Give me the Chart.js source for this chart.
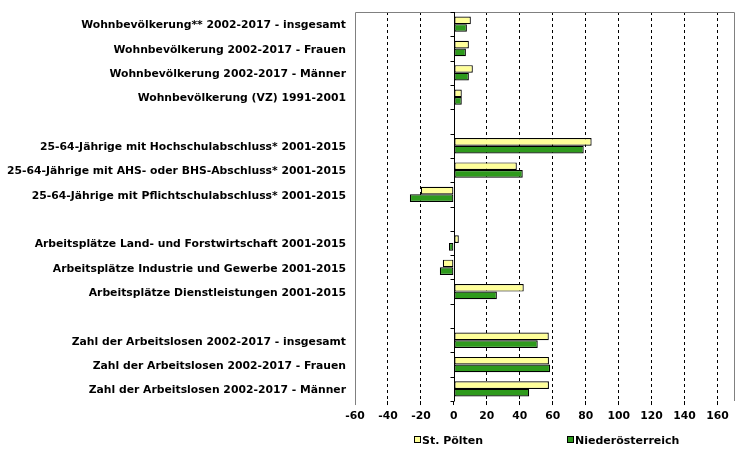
<!DOCTYPE html>
<html>
<head>
<meta charset="utf-8">
<script src="https://cdn.jsdelivr.net/npm/chart.js@4/dist/chart.umd.min.js"></script>
<style>
  html, body { margin: 0; padding: 0; background: #fff; }
  #wrap { position: relative; width: 755px; height: 458px; }
  #legend {
    position: absolute; top: 434px; left: 414px;
    font: bold 11px "DejaVu Sans", Verdana, sans-serif; color: #000;
  }
  #legend span.item { position: absolute; white-space: nowrap; }
  #legend i {
    display: inline-block; width: 5px; height: 5px; border: 1px solid #000;
    margin-right: 1px; vertical-align: 1px;
  }
</style>
</head>
<body>
<div id="wrap">
  <canvas id="myChart" width="755" height="458"></canvas>
  <div id="legend"></div>
</div>
<script>
const categories = [
  'Wohnbevölkerung** 2002-2017 - insgesamt',
  'Wohnbevölkerung 2002-2017 - Frauen',
  'Wohnbevölkerung 2002-2017 - Männer',
  'Wohnbevölkerung (VZ) 1991-2001',
  '',
  '25-64-Jährige mit Hochschulabschluss* 2001-2015',
  '25-64-Jährige mit AHS- oder BHS-Abschluss* 2001-2015',
  '25-64-Jährige mit Pflichtschulabschluss* 2001-2015',
  '',
  'Arbeitsplätze Land- und Forstwirtschaft 2001-2015',
  'Arbeitsplätze Industrie und Gewerbe 2001-2015',
  'Arbeitsplätze Dienstleistungen 2001-2015',
  '',
  'Zahl der Arbeitslosen 2002-2017 - insgesamt',
  'Zahl der Arbeitslosen 2002-2017 - Frauen',
  'Zahl der Arbeitslosen 2002-2017 - Männer'
];
const stPoelten = [10.3, 9.1, 11.5, 4.8, null, 83.6, 38.2, -20.0, null, 3.0, -6.7, 42.4, null, 57.6, 57.7, 57.7];
const niederoesterreich = [7.9, 7.3, 9.1, 4.8, null, 78.8, 41.8, -26.7, null, -3.0, -8.5, 26.1, null, 50.9, 58.4, 45.7];
const xTicks = [-60, -40, -20, 0, 20, 40, 60, 80, 100, 120, 140, 160];

const font = { family: '"DejaVu Sans", Verdana, sans-serif', size: 10.8, weight: 'bold' };

// frame, zero line and little ticks on the zero line
const framePlugin = {
  id: 'frame',
  beforeDatasetsDraw(chart) {
    const { ctx, chartArea: a, scales: { x, y } } = chart;
    const x0 = Math.round(x.getPixelForValue(0)) + 0.5;
    ctx.save();
    ctx.strokeStyle = '#808080';
    ctx.lineWidth = 1;
    ctx.beginPath();
    ctx.moveTo(Math.round(a.left) + 0.5, Math.round(a.bottom));
    ctx.lineTo(Math.round(a.left) + 0.5, Math.round(a.top) + 0.5);
    ctx.lineTo(Math.round(a.right) + 0.5, Math.round(a.top) + 0.5);
    ctx.lineTo(Math.round(a.right) + 0.5, Math.round(a.bottom));
    ctx.stroke();
    ctx.strokeStyle = '#000';
    ctx.beginPath();
    ctx.moveTo(x0, a.top);
    ctx.lineTo(x0, a.bottom);
    const step = (a.bottom - a.top) / categories.length;
    for (let i = 0; i <= categories.length; i++) {
      const yy = Math.round(a.top + i * step) + 0.5;
      ctx.moveTo(x0 - 4, yy);
      ctx.lineTo(x0, yy);
    }
    ctx.stroke();
    ctx.restore();
  }
};

const ctx = document.getElementById('myChart');
const chart = new Chart(ctx, {
  type: 'bar',
  data: {
    labels: categories,
    datasets: [
      {
        label: 'St. Pölten',
        data: stPoelten,
        backgroundColor: '#FFFF99',
        borderColor: '#000',
        borderWidth: 1.2,
        borderSkipped: false
      },
      {
        label: 'Niederösterreich',
        data: niederoesterreich,
        backgroundColor: '#2E9A1C',
        borderColor: '#000',
        borderWidth: 1.2,
        borderSkipped: false
      }
    ]
  },
  options: {
    indexAxis: 'y',
    responsive: false,
    animation: false,
    datasets: { bar: { categoryPercentage: 0.63, barPercentage: 1 } },
    layout: { padding: { top: 12, right: 21, bottom: 30, left: 0 } },
    plugins: {
      legend: { display: false },
      tooltip: { enabled: false }
    },
    scales: {
      x: {
        min: -60,
        max: 170,
        afterBuildTicks(scale) { scale.ticks = xTicks.map(v => ({ value: v })); },
        border: { display: false, dash: [3, 3] },
        grid: {
          color: c => (c.tick && (c.tick.value === -60 || c.tick.value === 0)) ? 'rgba(0,0,0,0)' : '#000',
          tickColor: c => (c.tick && c.tick.value === -60) ? '#808080' : '#000',
          tickLength: 4,
          lineWidth: 1
        },
        ticks: { color: '#000', font: font, padding: 5, maxRotation: 0 }
      },
      y: {
        afterFit(scale) {
          scale.width = 355;
          scale.paddingTop = 0;
          scale.paddingBottom = 0;
        },
        border: { display: false },
        grid: { display: false, drawTicks: false },
        ticks: { color: '#000', font: font, padding: 9, autoSkip: false, labelOffset: 1.5 }
      }
    }
  },
  plugins: [framePlugin]
});

// legend below the chart
const legend = document.getElementById('legend');
const legendX = [0, 153];
chart.data.datasets.forEach((ds, i) => {
  const s = document.createElement('span');
  s.className = 'item';
  s.style.left = legendX[i] + 'px';
  const box = document.createElement('i');
  box.style.background = ds.backgroundColor;
  s.appendChild(box);
  s.appendChild(document.createTextNode(ds.label));
  legend.appendChild(s);
});
</script>
</body>
</html>
